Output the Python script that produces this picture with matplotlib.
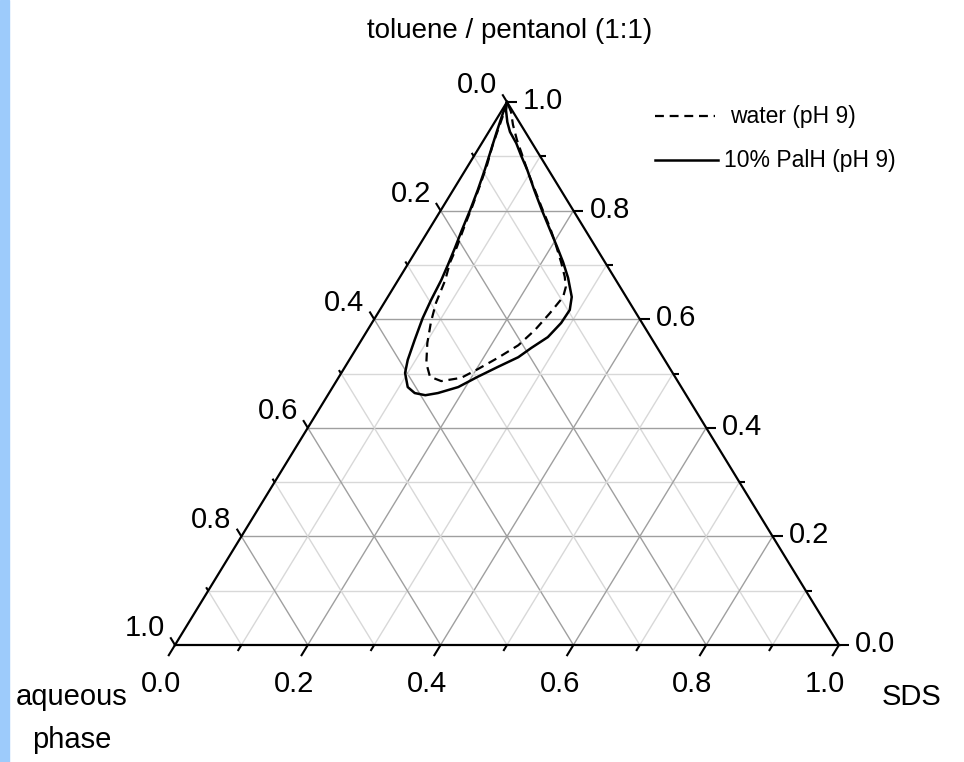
import numpy as np
import matplotlib.pyplot as plt
from matplotlib.patches import Rectangle

plt.rcParams['font.family'] = ['Liberation Sans Narrow', 'Liberation Sans', 'DejaVu Sans']

# phase boundaries: SDS fraction and toluene/pentanol fraction along each loop
# (aqueous phase = 1 - sds - oil)
palh_sds = [0.000, 0.004, 0.012, 0.020, 0.029, 0.037, 0.044, 0.050, 0.056, 0.061,
            0.065, 0.068, 0.072, 0.080, 0.088, 0.096, 0.113, 0.129, 0.147, 0.164,
            0.189, 0.209, 0.230, 0.252, 0.263, 0.278, 0.285, 0.286, 0.277, 0.254,
            0.232, 0.209, 0.183, 0.152, 0.122, 0.093, 0.070, 0.052, 0.032, 0.019,
            0.006, 0.000]
palh_oil = [1.000, 0.980, 0.945, 0.912, 0.875, 0.838, 0.801, 0.764, 0.731, 0.700,
            0.672, 0.635, 0.602, 0.562, 0.525, 0.501, 0.475, 0.464, 0.460, 0.464,
            0.475, 0.494, 0.512, 0.530, 0.547, 0.567, 0.593, 0.617, 0.641, 0.676,
            0.705, 0.733, 0.764, 0.801, 0.838, 0.875, 0.902, 0.924, 0.945, 0.963,
            0.985, 1.000]

water_sds = [0.000, 0.005, 0.011, 0.018, 0.028, 0.036, 0.044, 0.050, 0.058, 0.062,
             0.071, 0.078, 0.088, 0.102, 0.119, 0.137, 0.158, 0.185, 0.202, 0.222,
             0.241, 0.252, 0.259, 0.264, 0.259, 0.248, 0.229, 0.205, 0.181, 0.150,
             0.123, 0.096, 0.072, 0.050, 0.030, 0.015, 0.000]
water_oil = [1.000, 0.982, 0.954, 0.921, 0.884, 0.847, 0.807, 0.773, 0.733, 0.704,
             0.672, 0.630, 0.595, 0.556, 0.519, 0.494, 0.486, 0.492, 0.508, 0.529,
             0.552, 0.580, 0.611, 0.641, 0.659, 0.678, 0.705, 0.737, 0.768, 0.805,
             0.838, 0.871, 0.902, 0.930, 0.958, 0.982, 1.000]

series_names = ['water (pH 9)', '10% PalH (pH 9)']

major_ticks = [0.0, 0.2, 0.4, 0.6, 0.8, 1.0]
major_labels = ['0.0', '0.2', '0.4', '0.6', '0.8', '1.0']
minor_ticks = [0.1, 0.3, 0.5, 0.7, 0.9]

W, H = 964, 762
X0, X1, YB, YA = 175, 839, 645, 102   # triangle corners in pixels (y down)

fig = plt.figure(figsize=(W / 100, H / 100), dpi=100)
ax = fig.add_axes([0, 0, 1, 1])
sx = X1 - X0
sy = YB - YA
ax.set_xlim(-X0 / sx, (W - X0) / sx)
ax.set_ylim((YB - H) / sy, YB / sy)
ax.axis('off')

fig.patches.append(Rectangle((0, 0), 9 / W, 1, transform=fig.transFigure,
                             color='#9dcbfb', zorder=0))


def tern(s, t):
    s = np.asarray(s, dtype=float)
    t = np.asarray(t, dtype=float)
    return s + t / 2, t


def step(x, y, dx, dy, length):
    # move `length` pixels from (x, y) along the pixel direction (dx, dy)
    n = np.hypot(dx, dy)
    return x + dx / n * length / sx, y + dy / n * length / sy


def px(dx, dy):
    return dx / sx, -dy / sy


# grid lines
for v in np.arange(1, 10) / 10:
    major = round(v * 10) % 2 == 0
    c = '#9f9f9f' if major else '#d8d8d8'
    kw = dict(color=c, lw=1.0, zorder=1)
    ax.plot(*tern([0, 1 - v], [v, v]), **kw)          # toluene/pentanol
    ax.plot(*tern([v, v], [0, 1 - v]), **kw)          # SDS
    ax.plot(*tern([1 - v, 0], [0, 1 - v]), **kw)      # aqueous

# triangle frame
ax.plot(*tern([0, 1, 0, 0], [0, 0, 1, 0]), color='black', lw=1.6, zorder=4,
        solid_joinstyle='miter')

bot_dir = (-0.5 * sx, -sy)
left_dir = (-0.5 * sx, sy)
right_dir = (1, 0)
tk = dict(color='black', lw=1.5, zorder=4, solid_capstyle='butt')

for v in minor_ticks:
    x, y = tern(v, 0)
    ex, ey = step(x, y, *bot_dir, 7)
    ax.plot([x, ex], [y, ey], **tk)
    x, y = tern(1 - v, v)
    ex, ey = step(x, y, *right_dir, 6)
    ax.plot([x, ex], [y, ey], **tk)
    x, y = tern(0, 1 - v)
    ex, ey = step(x, y, *left_dir, 4)
    ax.plot([x, ex], [y, ey], **tk)

fs = 21
for v, lab in zip(major_ticks, major_labels):
    # SDS along the bottom
    x, y = tern(v, 0)
    ex, ey = step(x, y, *bot_dir, 13)
    ax.plot([x, ex], [y, ey], **tk)
    ox, oy = px(-7, 28)
    ax.text(ex + ox, ey + oy, lab, fontsize=fs, ha='center', va='center')
    # toluene/pentanol on the right
    x, y = tern(1 - v, v)
    ex, ey = step(x, y, *right_dir, 10)
    ax.plot([x, ex], [y, ey], **tk)
    ox, oy = px(6, -1)
    ax.text(ex + ox, ey + oy, lab, fontsize=fs, ha='left', va='center')
    # aqueous phase on the left
    x, y = tern(0, 1 - v)
    ex, ey = step(x, y, *left_dir, 9)
    ax.plot([x, ex], [y, ey], **tk)
    ox, oy = px(-5, -9)
    ax.text(ex + ox, ey + oy, lab, fontsize=fs, ha='right', va='center')

# phase boundaries
ax.plot(*tern(water_sds, water_oil), color='black', lw=1.6, ls=(0, (4, 2.6)),
        zorder=3)
ax.plot(*tern(palh_sds, palh_oil), color='black', lw=1.8, zorder=3)

# legend
fig.lines.append(plt.Line2D([655 / W, 715 / W], [1 - 116 / H, 1 - 116 / H],
                            transform=fig.transFigure, color='black', lw=1.6,
                            ls=(0, (4, 2.6))))
fig.lines.append(plt.Line2D([655 / W, 718 / W], [1 - 160 / H, 1 - 160 / H],
                            transform=fig.transFigure, color='black', lw=1.8))
fig.text(730 / W, 1 - 116 / H, series_names[0], fontsize=16.5, va='center')
fig.text(724 / W, 1 - 160 / H, series_names[1], fontsize=16.5, va='center')

# corner titles
fig.text(510 / W, 1 - 31 / H, 'toluene / pentanol (1:1)', fontsize=20,
         ha='center', va='center')
fig.text(912 / W, 1 - 697 / H, 'SDS', fontsize=fs, ha='center', va='center')
fig.text(72 / W, 1 - 697 / H, 'aqueous', fontsize=fs, ha='center', va='center')
fig.text(72 / W, 1 - 740 / H, 'phase', fontsize=fs, ha='center', va='center')

fig.savefig('out.png', dpi=100)
